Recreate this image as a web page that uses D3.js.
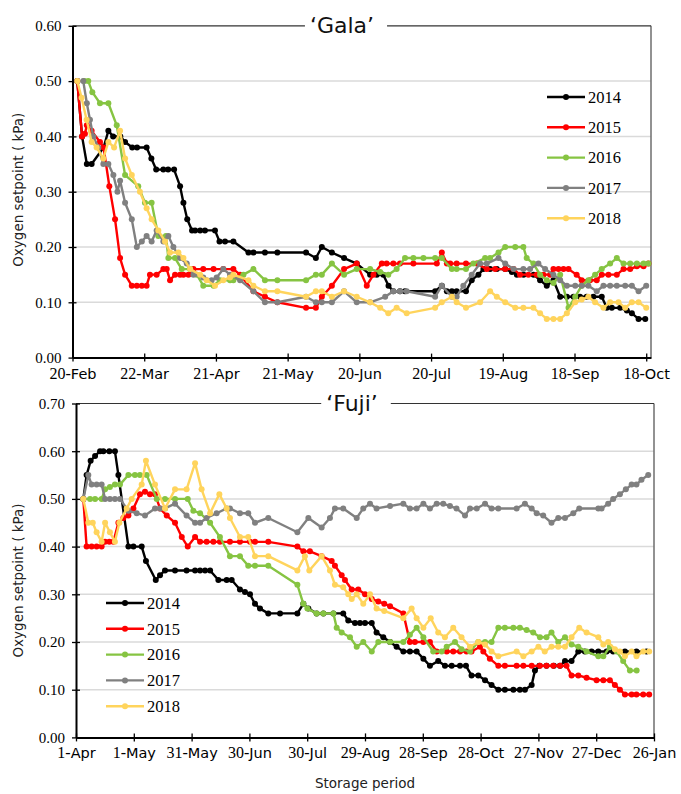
<!DOCTYPE html>
<html>
<head>
<meta charset="utf-8">
<script src="https://d3js.org/d3.v7.min.js"></script>
<style>
  body { margin: 0; background: #fff; }
</style>
</head>
<body>
<svg id="chart" width="681" height="794"></svg>
<script>
  // series names and colours (same for both cultivars)
  const years = ["2014", "2015", "2016", "2017", "2018"];
  const colors = ["#000000", "#ff0000", "#86c442", "#808080", "#ffd45c"];

  // x tick labels, one every 30 days from the start of storage
  const galaTicks = ["20-Feb", "22-Mar", "21-Apr", "21-May", "20-Jun", "20-Jul", "19-Aug", "18-Sep", "18-Oct"];
  const fujiTicks = ["1-Apr", "1-May", "31-May", "30-Jun", "30-Jul", "29-Aug", "28-Sep", "28-Oct", "27-Nov", "27-Dec", "26-Jan"];
  const galaYTicks = [0, 0.1, 0.2, 0.3, 0.4, 0.5, 0.6];
  const fujiYTicks = [0, 0.1, 0.2, 0.3, 0.4, 0.5, 0.6, 0.7];

  // [days after 20-Feb, O2 setpoint kPa]
  const gala2014 = [[2,.50],[4,.40],[6,.35],[8,.35],[13,.38],[15,.41],[17,.40],[20,.40],[22,.39],[25,.38],[27,.38],[31,.38],[33,.36],[35,.34],[38,.34],[40,.34],[42.5,.34],[45,.31],[46.4,.28],[48,.25],[50,.23],[51.3,.23],[53.4,.23],[55.4,.23],[59.6,.23],[61.5,.21],[63.8,.21],[67.3,.21],[73.6,.19],[75.7,.19],[80.5,.19],[85.7,.19],[97.7,.19],[101.8,.18],[104.3,.20],[108.5,.19],[113.6,.18],[118.9,.17],[124.5,.15],[127.3,.15],[130,.15],[132.2,.13],[134.2,.12],[137,.12],[139.1,.12],[151.7,.12],[154.5,.13],[156.6,.12],[158.7,.12],[160.7,.12],[164.6,.12],[167,.14],[169.8,.15],[171.9,.16],[174.7,.16],[177.5,.16],[181,.16],[183.8,.155],[185.9,.15],[188.7,.15],[192.9,.15],[195.6,.14],[198.4,.13],[201.2,.14],[204,.11],[206.8,.11],[209.6,.11],[212.3,.11],[215.1,.11],[217.9,.11],[221.4,.11],[223.5,.09],[225.6,.09],[229.1,.09],[231.9,.085],[234,.08],[236.8,.07],[239.6,.07]];
  const gala2015 = [[2,.50],[4,.40],[5.2,.405],[6,.42],[8,.41],[11.5,.39],[13,.38],[15.4,.31],[17.8,.25],[19.9,.18],[22,.15],[24.8,.13],[26.9,.13],[29,.13],[31,.13],[32.4,.15],[35.2,.15],[38,.16],[39.4,.16],[40.8,.14],[42.9,.15],[45,.15],[46.4,.15],[48.5,.15],[50.6,.16],[54.7,.16],[59,.16],[63.1,.16],[67.3,.16],[70.1,.15],[75.7,.12],[80.5,.11],[85.7,.10],[97.7,.09],[101.8,.09],[104.3,.11],[108.5,.13],[113.6,.16],[118.9,.17],[123.1,.13],[125.9,.15],[129.4,.17],[131.4,.17],[134.2,.17],[137,.17],[142.6,.17],[152.4,.17],[154.5,.19],[156.6,.17],[158,.17],[160.7,.17],[164.6,.17],[169.1,.17],[173.3,.16],[176.8,.16],[181,.16],[184.5,.16],[187.2,.15],[190.7,.15],[194.2,.15],[197,.15],[199.8,.15],[201.2,.16],[203.3,.16],[205.4,.16],[207.5,.16],[210.9,.15],[213,.14],[216.5,.14],[219.3,.14],[221.4,.15],[224.2,.15],[227.7,.15],[230.5,.16],[233.3,.16],[236.1,.165],[238.9,.165],[240.9,.17]];
  const gala2016 = [[5,.50],[6.6,.50],[8.3,.48],[11.5,.46],[15,.46],[18.5,.42],[22,.33],[27.5,.31],[30.3,.28],[33.1,.28],[35.9,.22],[39.1,.22],[40.1,.18],[42.9,.18],[45.7,.16],[49.2,.16],[52,.15],[54.7,.13],[59,.13],[61.7,.14],[65.9,.14],[67.3,.14],[71.5,.15],[75.7,.16],[80.5,.14],[85.7,.14],[97.7,.14],[101.8,.15],[104.3,.15],[108.5,.17],[113.6,.15],[118.9,.16],[124.5,.16],[128.7,.155],[132.1,.15],[135.6,.16],[139.1,.18],[142.6,.18],[146.8,.18],[151.7,.18],[154.5,.18],[158.7,.16],[160.7,.16],[164.6,.16],[167.7,.17],[172.6,.18],[174.7,.18],[178.2,.19],[181,.20],[185.2,.20],[188.6,.20],[190,.18],[192.8,.17],[195.6,.15],[198.4,.14],[201.2,.135],[204,.15],[207.5,.09],[210.3,.11],[213,.13],[215.8,.14],[218.6,.15],[221.4,.16],[224.9,.17],[227.7,.18],[230.5,.17],[233.3,.17],[236.1,.17],[238.9,.17],[240.9,.17]];
  const gala2017 = [[2,.50],[4.5,.50],[6,.46],[7.3,.43],[8.7,.40],[10.8,.38],[12.9,.35],[15,.35],[17.1,.33],[18.8,.30],[19.9,.32],[22,.28],[24.8,.25],[26.9,.20],[29,.21],[31,.22],[33.1,.21],[35.2,.23],[38,.21],[40.1,.22],[42.2,.20],[45,.18],[47.8,.17],[50.6,.15],[54.7,.145],[58.2,.14],[60.3,.145],[63.1,.16],[65.9,.15],[70.1,.14],[75.7,.12],[80.5,.10],[85.7,.10],[97.7,.11],[101.8,.10],[104.3,.10],[108.5,.10],[113.6,.12],[118.9,.10],[124.5,.10],[130.8,.11],[134.2,.12],[137,.12],[139.8,.12],[151.7,.11],[154.5,.13],[158.7,.11],[160.7,.11],[163.5,.13],[167,.15],[170.5,.17],[173.3,.17],[178.2,.18],[181,.17],[184.5,.16],[188.6,.16],[191.4,.16],[194.9,.17],[197.7,.16],[201.2,.15],[204,.14],[206.8,.13],[210.3,.13],[213,.13],[215.8,.13],[219.3,.12],[222.1,.13],[224.9,.13],[227.7,.13],[231.2,.13],[234,.13],[236.8,.12],[240,.13]];
  const gala2018 = [[2,.50],[3.8,.47],[5.9,.43],[8,.39],[10.1,.38],[12.9,.36],[15,.39],[17.4,.38],[19.9,.41],[22,.36],[24.8,.33],[28.2,.30],[31,.27],[33.1,.25],[35.9,.23],[38.7,.21],[40.8,.19],[44.3,.19],[46.4,.18],[49.2,.16],[53.4,.15],[56.1,.14],[59.6,.13],[63.1,.14],[65.9,.145],[67.3,.15],[73.6,.14],[75.7,.13],[80.5,.12],[85.7,.12],[97.7,.11],[101.8,.12],[104.3,.12],[108.5,.11],[113.6,.12],[118.9,.11],[124.5,.10],[128.7,.09],[132.1,.08],[135.6,.09],[139.8,.08],[151.7,.09],[154.5,.10],[158.7,.11],[160.7,.10],[164.6,.09],[170.5,.10],[174.7,.12],[177.5,.11],[181,.10],[185.2,.09],[188.6,.09],[192.8,.09],[195.6,.08],[198.4,.07],[201.2,.07],[204,.07],[206.8,.08],[210.3,.10],[213,.105],[215.8,.11],[218.6,.10],[222.1,.09],[224.9,.10],[228.4,.10],[231.2,.09],[234,.10],[236.8,.10],[240,.09]];

  // [days after 1-Apr, O2 setpoint kPa]
  const fuji2014 = [[3.8,.50],[5.5,.55],[7.6,.58],[9.9,.59],[12.5,.60],[14.2,.60],[17.3,.60],[20.2,.60],[22,.55],[27.2,.40],[29.8,.40],[34.1,.40],[36.3,.37],[41.4,.33],[43.6,.34],[46.2,.35],[51.4,.35],[57.4,.35],[61.8,.35],[64.4,.35],[67,.35],[69.6,.35],[73.9,.33],[78.2,.33],[80.8,.33],[85.1,.31],[87.7,.305],[90.3,.30],[92.9,.28],[95.5,.27],[99.8,.26],[105.9,.26],[114.9,.26],[118,.28],[120.6,.27],[124.9,.26],[128.4,.26],[133.6,.26],[138.7,.26],[141.3,.245],[144.8,.24],[147.4,.24],[150,.24],[153.5,.24],[156,.22],[159.5,.21],[163,.20],[166.4,.19],[169.9,.18],[173.3,.18],[176.8,.18],[180.3,.165],[183.7,.15],[188,.16],[191.5,.15],[195,.15],[199.3,.15],[202.4,.15],[205.3,.13],[208.8,.13],[212.3,.12],[215.7,.11],[219.2,.10],[222.6,.10],[227,.10],[230.4,.10],[233,.10],[236.5,.11],[238.2,.14],[240.5,.15],[244.2,.15],[248,.15],[251.2,.15],[253.8,.16],[257.2,.16],[260.7,.18],[264.1,.18],[267.6,.18],[271.1,.18],[275.4,.18],[278.8,.18],[284.9,.18],[290.9,.18],[296.1,.18]];
  const fuji2015 = [[3.8,.50],[5.5,.40],[8.1,.40],[10.7,.40],[13.3,.40],[15.1,.41],[17.3,.41],[19.4,.41],[22,.45],[24.6,.46],[27.2,.465],[29.8,.48],[33.2,.51],[35.8,.515],[38.4,.51],[41,.51],[43.6,.48],[47.1,.465],[51.4,.45],[54.9,.42],[58,.40],[61.8,.42],[64.4,.41],[67.8,.41],[71.3,.41],[74.7,.41],[79.9,.41],[85.1,.41],[90.3,.41],[92.9,.41],[99.8,.41],[114.9,.40],[118,.39],[121.4,.39],[127.5,.38],[132.7,.37],[134.4,.36],[137.9,.34],[139.6,.33],[143.1,.31],[146.5,.31],[150,.30],[153.5,.29],[156.9,.285],[160,.28],[163,.275],[169.9,.26],[173.3,.20],[175.9,.20],[180.3,.20],[183.7,.20],[187.2,.18],[192.4,.18],[195.8,.18],[199.3,.18],[202.7,.18],[205.3,.18],[209.7,.19],[211.4,.18],[214.8,.165],[219.2,.15],[222.6,.15],[228.7,.15],[232.2,.15],[236.5,.15],[240.8,.15],[244.2,.15],[247.7,.15],[251.2,.15],[254.6,.15],[257.2,.13],[260.7,.13],[265,.125],[270.2,.12],[273.7,.12],[277.1,.12],[279.7,.11],[282.3,.10],[284.9,.09],[288.4,.09],[290.9,.09],[294.4,.09],[297.5,.09]];
  const fuji2016 = [[3.8,.50],[7.3,.50],[9.9,.50],[13.3,.50],[15.1,.52],[17.6,.525],[20.2,.53],[22.8,.53],[27.2,.55],[30.6,.55],[33.2,.55],[36.7,.55],[41.9,.50],[46.2,.50],[51.4,.50],[58,.50],[60.9,.475],[64.4,.47],[69.6,.45],[74.7,.42],[79.9,.38],[85.1,.38],[89.4,.36],[92.9,.36],[99.8,.36],[114.9,.32],[118,.28],[120.1,.27],[124.9,.26],[128.4,.26],[133.6,.26],[135.3,.23],[137.9,.22],[142.2,.21],[145.7,.19],[149.1,.20],[153.5,.18],[156.9,.20],[163,.20],[169.9,.20],[173.3,.215],[176.8,.23],[180.3,.21],[185.4,.18],[189.8,.18],[192.4,.19],[196.7,.20],[200.1,.185],[204.5,.18],[208.8,.20],[212.3,.20],[215.7,.20],[219.2,.23],[222.6,.23],[227,.23],[230.4,.23],[233.9,.225],[237.3,.22],[240.8,.21],[244.2,.21],[246.8,.22],[250.3,.20],[253.8,.21],[257.2,.195],[260.7,.19],[265,.18],[271.1,.17],[273.7,.17],[277.1,.19],[280.6,.18],[284,.16],[287.5,.14],[291,.14]];
  const fuji2017 = [[3.8,.50],[6.4,.55],[8.1,.53],[10.7,.53],[13.3,.53],[15.1,.50],[17.6,.50],[20.2,.50],[22.8,.50],[27.2,.475],[31.5,.47],[35.8,.465],[41,.48],[43.6,.48],[46.2,.48],[51.4,.49],[57.4,.465],[61.8,.45],[64.4,.45],[67.8,.46],[73,.47],[78.2,.48],[79.9,.48],[85.1,.47],[89.4,.47],[92.9,.45],[99.8,.46],[114.9,.43],[120.6,.46],[127.5,.44],[131.8,.46],[134.4,.48],[138.7,.48],[145.7,.46],[149.1,.48],[152.6,.49],[156,.48],[163,.485],[169.9,.49],[173.3,.48],[176.8,.48],[180.3,.49],[183.7,.48],[187.2,.49],[190.6,.49],[194.1,.485],[197.5,.48],[201.9,.465],[204.5,.48],[208,.48],[212.3,.49],[215.7,.48],[219.2,.48],[228.7,.48],[233,.49],[236.5,.48],[239.1,.47],[242.5,.465],[246.8,.45],[250.3,.46],[253.8,.46],[258.1,.47],[261.2,.48],[271.1,.48],[272.8,.48],[276.2,.49],[278.8,.50],[282.3,.51],[285.4,.52],[288.4,.53],[290.9,.53],[293.5,.54],[297,.55]];
  const fuji2018 = [[3.8,.50],[6.4,.45],[8.7,.45],[10.7,.43],[13.3,.41],[15.1,.45],[17.6,.43],[20.2,.41],[22.5,.45],[26.3,.48],[28.9,.50],[34.1,.53],[36.3,.58],[41,.53],[46.2,.48],[51.4,.52],[57.4,.52],[61.8,.575],[65.2,.52],[69.6,.47],[74.4,.51],[78.2,.48],[79.9,.46],[85.1,.42],[89.4,.42],[92.9,.38],[99.8,.38],[114.9,.35],[118.8,.38],[121.1,.35],[127.5,.38],[131.8,.35],[134.4,.32],[138.7,.315],[141.3,.30],[143.1,.29],[145.7,.30],[149.1,.28],[152.6,.30],[156,.27],[160,.265],[169.9,.25],[174.2,.27],[176.8,.25],[180.3,.23],[184.1,.25],[188,.22],[191.5,.21],[195.8,.23],[200.1,.21],[204.5,.19],[208.8,.20],[212.3,.195],[215.7,.18],[219.2,.17],[228.7,.18],[232.2,.17],[236.5,.18],[240,.19],[243.3,.18],[246.8,.19],[250.3,.19],[253.8,.19],[257.2,.21],[261.2,.23],[265,.22],[271.1,.21],[273.7,.195],[276.2,.20],[279.7,.185],[282.3,.18],[284.9,.17],[288.4,.18],[290.9,.17],[294.4,.18],[297.5,.18]];

  const serif = "'Liberation Serif', 'Times New Roman', serif";
  const sans = "'DejaVu Sans', sans-serif";

  const svg = d3.select("#chart");
  svg.append("rect").attr("width", 681).attr("height", 794).attr("fill", "#fff");

  function drawPanel(o) {
    const x = d3.scaleLinear().domain([0, o.maxDay]).range([o.left, o.right]);
    const y = d3.scaleLinear().domain([0, o.maxY]).range([o.bottom, o.top]);
    const g = svg.append("g");

    // horizontal gridlines
    g.selectAll(".grid")
      .data(o.yTicks.filter(v => v > 0 && v < o.maxY))
      .join("line")
      .attr("x1", o.left).attr("x2", o.right)
      .attr("y1", d => y(d)).attr("y2", d => y(d))
      .attr("stroke", "#dadada").attr("stroke-width", 1.5);

    // right border
    g.append("line")
      .attr("x1", o.right).attr("x2", o.right).attr("y1", o.top).attr("y2", o.bottom)
      .attr("stroke", "#6e6e6e").attr("stroke-width", 1.5);

    // title sitting on the top border
    const title = g.append("text")
      .attr("x", o.titleX).attr("y", o.top + 7.5)
      .attr("text-anchor", "middle")
      .style("font-family", sans).style("font-size", "22px")
      .attr("fill", "#111")
      .text(o.title);
    const bb = title.node().getBBox();
    g.append("line").attr("x1", o.left).attr("x2", bb.x - 5)
      .attr("y1", o.top).attr("y2", o.top).attr("stroke", "#333").attr("stroke-width", 1.2);
    g.append("line").attr("x1", bb.x + bb.width + 13).attr("x2", o.right)
      .attr("y1", o.top).attr("y2", o.top).attr("stroke", "#333").attr("stroke-width", 1.2);

    // y axis
    const yAxis = g.append("g")
      .attr("transform", `translate(${o.left},0)`)
      .call(d3.axisLeft(y).tickValues(o.yTicks).tickFormat(d3.format(".2f"))
        .tickSize(4).tickSizeOuter(0).tickPadding(7));
    yAxis.select(".domain").attr("stroke", "#000").attr("stroke-width", 2);
    yAxis.selectAll(".tick line").attr("x1", 4).attr("stroke", "#000").attr("stroke-width", 1.3);
    yAxis.selectAll(".tick text")
      .style("font-family", serif).style("font-size", "15px").attr("fill", "#000");

    // x axis
    const xAxis = g.append("g")
      .attr("transform", `translate(0,${o.bottom})`)
      .call(d3.axisBottom(x).tickValues(o.tickLabels.map((t, i) => i * 30))
        .tickSize(4).tickSizeOuter(0));
    xAxis.select(".domain").attr("stroke", "#000").attr("stroke-width", 2);
    xAxis.selectAll(".tick line").attr("y1", -4).attr("stroke", "#000").attr("stroke-width", 1.3);
    xAxis.selectAll(".tick text").each(function (d, i) {
      const parts = o.tickLabels[i].split("-");
      const t = d3.select(this).text(null).attr("y", 14).attr("dy", "0.71em").attr("fill", "#000");
      t.append("tspan").style("font-family", serif).style("font-size", "16px").text(parts[0] + "-");
      t.append("tspan").style("font-family", sans).style("font-size", "14.5px").text(parts[1]);
    });

    // y axis title
    g.append("text")
      .attr("transform", `translate(18,${(o.top + o.bottom) / 2 + o.yTitleShift}) rotate(-90)`)
      .attr("text-anchor", "middle").attr("dy", "0.35em")
      .style("font-family", sans).style("font-size", "13.5px").attr("fill", "#222")
      .text("Oxygen setpoint  ( kPa)");

    // series
    const line = d3.line().x(d => x(d[0])).y(d => y(d[1]));
    o.series.forEach((s, i) => {
      const sg = g.append("g");
      sg.append("path").datum(s).attr("d", line)
        .attr("fill", "none").attr("stroke", colors[i]).attr("stroke-width", 2.4)
        .attr("stroke-linejoin", "round");
      sg.selectAll("circle").data(s).join("circle")
        .attr("cx", d => x(d[0])).attr("cy", d => y(d[1])).attr("r", 3)
        .attr("fill", colors[i]);
    });

    // legend
    const lg = g.append("g");
    years.forEach((yr, i) => {
      const ly = o.legY + i * o.legStep;
      lg.append("line").attr("x1", o.legX).attr("x2", o.legX + 38)
        .attr("y1", ly).attr("y2", ly).attr("stroke", colors[i]).attr("stroke-width", 2.4);
      lg.append("circle").attr("cx", o.legX + 19).attr("cy", ly).attr("r", 3).attr("fill", colors[i]);
      lg.append("text").attr("x", o.legX + 41).attr("y", ly).attr("dy", "0.35em")
        .style("font-family", serif).style("font-size", "16.5px").attr("fill", "#000")
        .text(yr);
    });
  }

  drawPanel({
    title: "\u2018Gala\u2019", titleX: 342,
    left: 72.5, right: 651, top: 25.8, bottom: 357.6,
    maxDay: 242, maxY: 0.6, yTicks: galaYTicks, tickLabels: galaTicks,
    series: [gala2014, gala2015, gala2016, gala2017, gala2018],
    legX: 547, legY: 97, legStep: 30.3, yTitleShift: -2
  });

  drawPanel({
    title: "\u2018Fuji\u2019", titleX: 352,
    left: 76, right: 654, top: 403.5, bottom: 737.4,
    maxDay: 300, maxY: 0.7, yTicks: fujiYTicks, tickLabels: fujiTicks,
    series: [fuji2014, fuji2015, fuji2016, fuji2017, fuji2018],
    legX: 106, legY: 603, legStep: 25.8, yTitleShift: 10
  });

  svg.append("text")
    .attr("x", 365).attr("y", 783).attr("dy", "0.35em")
    .attr("text-anchor", "middle")
    .style("font-family", sans).style("font-size", "13.5px").attr("fill", "#222")
    .text("Storage period");
</script>
</body>
</html>
